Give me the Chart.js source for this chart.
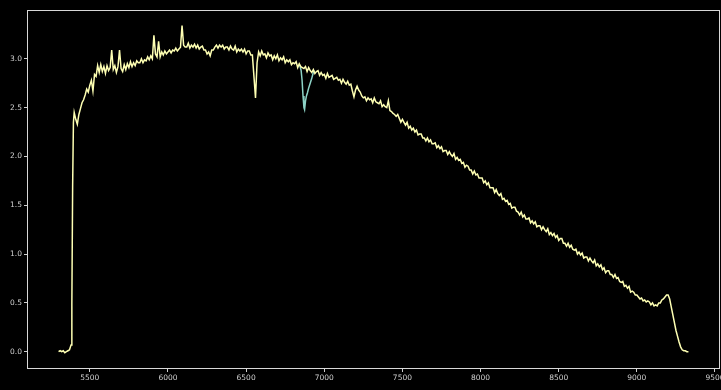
<!DOCTYPE html>
<html>
<head>
<meta charset="utf-8">
<script src="https://cdn.jsdelivr.net/npm/chart.js@4.3.0/dist/chart.umd.js"></script>
<style>
	html, body { margin: 0; padding: 0; background: #000; }
</style>
</head>
<body>
<canvas id="chart" width="721" height="390"></canvas>
<script>
// wavelength grid (Angstrom) and corrected flux
const wavelength = [
	5300, 5310, 5320, 5330, 5340, 5350, 5360, 5370, 5380, 5385,
	5390, 5395, 5400, 5410, 5420, 5430, 5440, 5450, 5460, 5470,
	5480, 5490, 5500, 5510, 5520, 5530, 5540, 5550, 5560, 5570,
	5580, 5590, 5600, 5610, 5620, 5630, 5640, 5650, 5660, 5670,
	5680, 5690, 5700, 5710, 5720, 5730, 5740, 5750, 5760, 5770,
	5780, 5790, 5800, 5810, 5820, 5830, 5840, 5850, 5860, 5870,
	5880, 5890, 5900, 5910, 5920, 5930, 5940, 5950, 5960, 5970,
	5980, 5990, 6000, 6010, 6020, 6030, 6040, 6050, 6060, 6070,
	6080, 6090, 6100, 6110, 6120, 6130, 6140, 6150, 6160, 6170,
	6180, 6190, 6200, 6210, 6220, 6230, 6240, 6250, 6260, 6270,
	6280, 6290, 6300, 6310, 6320, 6330, 6340, 6350, 6360, 6370,
	6380, 6390, 6400, 6410, 6420, 6430, 6440, 6450, 6460, 6470,
	6480, 6490, 6500, 6510, 6520, 6530, 6540, 6550, 6560, 6570,
	6580, 6590, 6600, 6610, 6620, 6630, 6640, 6650, 6660, 6670,
	6680, 6690, 6700, 6710, 6720, 6730, 6740, 6750, 6760, 6770,
	6780, 6790, 6800, 6810, 6820, 6830, 6840, 6850, 6860, 6870,
	6880, 6890, 6900, 6910, 6920, 6930, 6940, 6950, 6960, 6970,
	6980, 6990, 7000, 7010, 7020, 7030, 7040, 7050, 7060, 7070,
	7080, 7090, 7100, 7110, 7120, 7130, 7140, 7150, 7160, 7170,
	7180, 7190, 7200, 7210, 7220, 7230, 7240, 7250, 7260, 7270,
	7280, 7290, 7300, 7310, 7320, 7330, 7340, 7350, 7360, 7370,
	7380, 7390, 7400, 7410, 7420, 7430, 7440, 7450, 7460, 7470,
	7480, 7490, 7500, 7510, 7520, 7530, 7540, 7550, 7560, 7570,
	7580, 7590, 7600, 7610, 7620, 7630, 7640, 7650, 7660, 7670,
	7680, 7690, 7700, 7710, 7720, 7730, 7740, 7750, 7760, 7770,
	7780, 7790, 7800, 7810, 7820, 7830, 7840, 7850, 7860, 7870,
	7880, 7890, 7900, 7910, 7920, 7930, 7940, 7950, 7960, 7970,
	7980, 7990, 8000, 8010, 8020, 8030, 8040, 8050, 8060, 8070,
	8080, 8090, 8100, 8110, 8120, 8130, 8140, 8150, 8160, 8170,
	8180, 8190, 8200, 8210, 8220, 8230, 8240, 8250, 8260, 8270,
	8280, 8290, 8300, 8310, 8320, 8330, 8340, 8350, 8360, 8370,
	8380, 8390, 8400, 8410, 8420, 8430, 8440, 8450, 8460, 8470,
	8480, 8490, 8500, 8510, 8520, 8530, 8540, 8550, 8560, 8570,
	8580, 8590, 8600, 8610, 8620, 8630, 8640, 8650, 8660, 8670,
	8680, 8690, 8700, 8710, 8720, 8730, 8740, 8750, 8760, 8770,
	8780, 8790, 8800, 8810, 8820, 8830, 8840, 8850, 8860, 8870,
	8880, 8890, 8900, 8910, 8920, 8930, 8940, 8950, 8960, 8970,
	8980, 8990, 9000, 9010, 9020, 9030, 9040, 9050, 9060, 9070,
	9080, 9090, 9100, 9110, 9120, 9130, 9140, 9150, 9160, 9170,
	9180, 9190, 9200, 9210, 9220, 9230, 9240, 9250, 9260, 9270,
	9280, 9290, 9300, 9310, 9320, 9330,
];
const flux = [
	0.00, 0.01, 0.00, 0.01, -0.01, 0.00, 0.01, 0.02, 0.07, 0.50,
	1.70, 2.35, 2.45, 2.38, 2.33, 2.43, 2.49, 2.55, 2.58, 2.63,
	2.69, 2.66, 2.73, 2.78, 2.67, 2.84, 2.82, 2.93, 2.86, 2.94,
	2.87, 2.92, 2.85, 2.93, 2.88, 2.91, 3.09, 2.89, 2.93, 2.86,
	2.92, 3.09, 2.90, 2.87, 2.94, 2.89, 2.95, 2.91, 2.97, 2.92,
	2.96, 2.93, 2.98, 2.96, 2.96, 3.00, 2.96, 2.99, 2.98, 3.02,
	2.99, 3.03, 3.00, 3.24, 3.05, 3.02, 3.18, 3.02, 3.07, 3.04,
	3.08, 3.05, 3.07, 3.09, 3.06, 3.09, 3.08, 3.11, 3.08, 3.10,
	3.12, 3.34, 3.14, 3.12, 3.12, 3.16, 3.11, 3.14, 3.12, 3.15,
	3.11, 3.14, 3.10, 3.12, 3.13, 3.09, 3.09, 3.05, 3.07, 3.03,
	3.09, 3.09, 3.12, 3.14, 3.11, 3.14, 3.12, 3.14, 3.10, 3.12,
	3.12, 3.09, 3.13, 3.10, 3.09, 3.13, 3.07, 3.10, 3.08, 3.10,
	3.07, 3.10, 3.05, 3.08, 3.08, 3.04, 3.04, 2.82, 2.60, 2.96,
	3.07, 3.03, 3.08, 3.04, 3.05, 3.01, 3.06, 3.03, 3.04, 2.99,
	3.03, 3.00, 3.04, 2.98, 3.01, 2.99, 3.02, 2.96, 2.99, 2.97,
	2.99, 2.94, 2.96, 2.95, 2.97, 2.91, 2.95, 2.92, 2.91, 2.90,
	2.92, 2.87, 2.91, 2.88, 2.86, 2.89, 2.85, 2.87, 2.88, 2.83,
	2.86, 2.83, 2.84, 2.80, 2.85, 2.81, 2.82, 2.83, 2.79, 2.80,
	2.81, 2.78, 2.79, 2.75, 2.79, 2.76, 2.74, 2.77, 2.73, 2.74,
	2.67, 2.61, 2.68, 2.72, 2.68, 2.66, 2.62, 2.60, 2.61, 2.57,
	2.60, 2.58, 2.59, 2.55, 2.60, 2.56, 2.55, 2.54, 2.57, 2.51,
	2.53, 2.51, 2.50, 2.57, 2.47, 2.46, 2.44, 2.43, 2.41, 2.43,
	2.39, 2.35, 2.38, 2.35, 2.32, 2.35, 2.29, 2.31, 2.27, 2.29,
	2.25, 2.27, 2.22, 2.23, 2.23, 2.19, 2.19, 2.16, 2.19, 2.15,
	2.17, 2.13, 2.13, 2.14, 2.09, 2.11, 2.08, 2.10, 2.05, 2.06,
	2.06, 2.02, 2.05, 2.02, 2.00, 2.03, 1.97, 1.99, 1.96, 1.97,
	1.93, 1.94, 1.89, 1.91, 1.90, 1.86, 1.86, 1.82, 1.85, 1.81,
	1.82, 1.78, 1.78, 1.78, 1.73, 1.75, 1.71, 1.73, 1.68, 1.68,
	1.68, 1.63, 1.66, 1.62, 1.60, 1.62, 1.56, 1.57, 1.54, 1.55,
	1.51, 1.52, 1.47, 1.48, 1.48, 1.44, 1.43, 1.40, 1.43, 1.38,
	1.40, 1.36, 1.36, 1.37, 1.32, 1.34, 1.31, 1.33, 1.28, 1.29,
	1.29, 1.25, 1.28, 1.25, 1.23, 1.26, 1.20, 1.22, 1.19, 1.21,
	1.17, 1.19, 1.14, 1.16, 1.16, 1.11, 1.11, 1.08, 1.11, 1.07,
	1.09, 1.05, 1.04, 1.05, 1.00, 1.02, 0.99, 1.01, 0.96, 0.97,
	0.97, 0.93, 0.96, 0.93, 0.91, 0.94, 0.88, 0.90, 0.87, 0.89,
	0.84, 0.86, 0.81, 0.83, 0.83, 0.79, 0.79, 0.76, 0.79, 0.75,
	0.76, 0.72, 0.71, 0.72, 0.67, 0.68, 0.65, 0.67, 0.61, 0.62,
	0.61, 0.58, 0.58, 0.56, 0.54, 0.55, 0.52, 0.53, 0.51, 0.52,
	0.51, 0.48, 0.50, 0.47, 0.48, 0.47, 0.50, 0.50, 0.53, 0.54,
	0.56, 0.58, 0.58, 0.54, 0.46, 0.38, 0.30, 0.22, 0.16, 0.10,
	0.05, 0.02, 0.01, 0.01, 0.00, 0.00,
];

// uncorrected flux across the telluric A band
const bandWavelength = [ 6840, 6846, 6852, 6858, 6864, 6870, 6874, 6880, 6886, 6892, 6900, 6910, 6920, 6928, 6936 ];
const bandFlux = [ 2.94, 2.92, 2.88, 2.78, 2.62, 2.50, 2.48, 2.57, 2.62, 2.65, 2.70, 2.75, 2.80, 2.85, 2.88 ];

const xTicks = [ 5500, 6000, 6500, 7000, 7500, 8000, 8500, 9000, 9500 ];
const yTicks = [ 0, 0.5, 1.0, 1.5, 2.0, 2.5, 3.0 ];

const tickFont = { family: 'DejaVu Sans', size: 7.5 };
const tickColor = '#cfcfcf';

const frame = {
	id: 'frame',
	beforeDraw: ( chart ) => {
		const c = chart.ctx;
		c.save();
		c.fillStyle = '#000';
		c.fillRect( 0, 0, chart.width, chart.height );
		c.restore();
	},
	afterDraw: ( chart ) => {
		const { left, top, right, bottom } = chart.chartArea;
		const c = chart.ctx;
		c.save();
		c.strokeStyle = '#d8d8d8';
		c.lineWidth = 1;
		c.strokeRect( left + 0.5, top + 0.5, right - left - 1, bottom - top - 1 );
		c.restore();
	},
};

const ctx = document.getElementById( 'chart' ).getContext( '2d' );
new Chart( ctx, {
	type: 'line',
	plugins: [ frame ],
	data: {
		datasets: [
			{
				data: wavelength.map( ( w, i ) => ( { x: w, y: flux[ i ] } ) ),
				borderColor: '#feffb3',
				borderWidth: 1.5,
				pointRadius: 0,
				tension: 0,
			},
			{
				data: bandWavelength.map( ( w, i ) => ( { x: w, y: bandFlux[ i ] } ) ),
				borderColor: '#8dd3c7',
				borderWidth: 1.5,
				pointRadius: 0,
				tension: 0,
			},
		],
	},
	options: {
		responsive: false,
		animation: false,
		devicePixelRatio: 1,
		layout: { padding: { top: 10, right: 1, left: 0, bottom: 0 } },
		plugins: {
			legend: { display: false },
			tooltip: { enabled: false },
		},
		scales: {
			x: {
				type: 'linear',
				min: 5098,
				max: 9532,
				border: { display: false },
				grid: { drawOnChartArea: false, tickLength: 3, color: tickColor },
				ticks: {
					color: tickColor,
					font: tickFont,
					padding: 2,
					maxRotation: 0,
					autoSkip: false,
					callback: ( v ) => String( v ),
				},
				afterBuildTicks: ( s ) => { s.ticks = xTicks.map( ( v ) => ( { value: v } ) ); },
				afterFit: ( s ) => { s.height = 21; s.paddingLeft = 0; s.paddingRight = 0; },
			},
			y: {
				min: -0.177,
				max: 3.5,
				border: { display: false },
				grid: { drawOnChartArea: false, tickLength: 3, color: tickColor },
				ticks: {
					color: tickColor,
					font: tickFont,
					padding: 2,
					callback: ( v ) => v.toFixed( 1 ),
				},
				afterBuildTicks: ( s ) => { s.ticks = yTicks.map( ( v ) => ( { value: v } ) ); },
				afterFit: ( s ) => { s.width = 27; s.paddingTop = 0; s.paddingBottom = 0; },
			},
		},
	},
} );
</script>
</body>
</html>
